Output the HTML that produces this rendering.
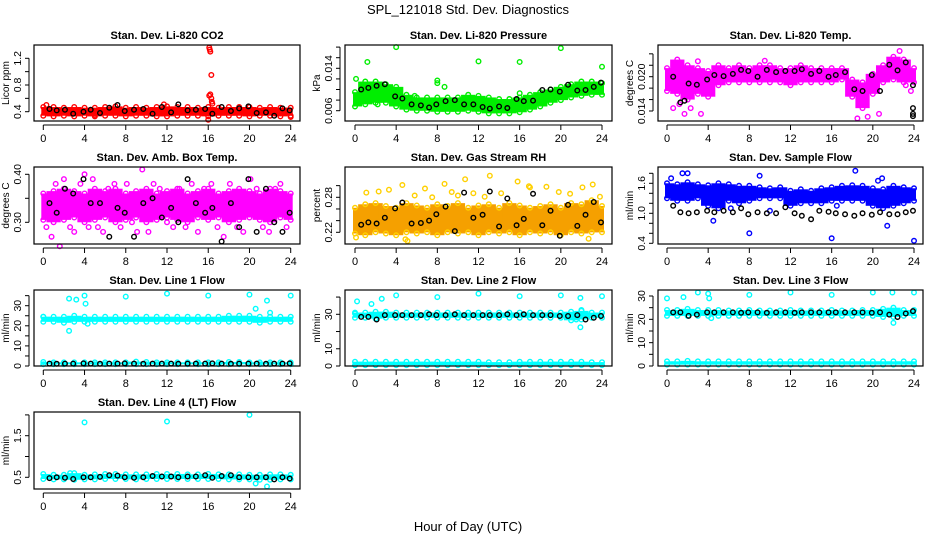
<!DOCTYPE html>
<html><head><meta charset="utf-8">
<style>
html,body{margin:0;padding:0;background:#fff;}
svg{display:block;font-family:"Liberation Sans",Arial,sans-serif;}
</style></head>
<body>
<svg id="chart" width="936" height="540" viewBox="0 0 936 540">
<rect width="936" height="540" fill="#fff"/>
<text x="468" y="14" text-anchor="middle" font-size="13">SPL_121018  Std. Dev. Diagnostics</text>
<text x="468" y="531" text-anchor="middle" font-size="13">Hour of Day (UTC)</text>
</svg>
<script>
// ---- data ----
const blackHours=[0.6,1.3,2.1,2.9,3.9,4.6,5.5,6.4,7.2,7.9,8.8,9.7,10.6,11.5,12.4,13.1,14.0,14.8,15.7,16.4,17.3,18.2,19.0,19.9,20.7,21.6,22.4,23.2,23.9];
const xTicks=[0,4,8,12,16,20,24];

const p1Lo=[0.34,0.33,0.34,0.33,0.34,0.33,0.34,0.34,0.33,0.34,0.34,0.33,0.33,0.34,0.34,0.34,0.33,0.34,0.34,0.34,0.33,0.34,0.34,0.33,0.34];
const p1Hi=[0.47,0.47,0.46,0.47,0.46,0.46,0.47,0.48,0.46,0.47,0.46,0.47,0.48,0.47,0.47,0.46,0.47,0.46,0.47,0.47,0.47,0.46,0.47,0.46,0.46];
const p1OutX=[16.1,16.15,16.2,16.3,16.2,16.1,16.3,16.35,16.4,16.0,24.0,0.3,11.7,5.0];
const p1OutY=[1.36,1.33,1.30,0.95,0.66,0.64,0.60,0.55,0.52,0.28,0.32,0.5,0.51,0.35];
const p1Black=[0.44,0.42,0.43,0.37,0.40,0.43,0.38,0.46,0.50,0.41,0.43,0.44,0.37,0.47,0.39,0.51,0.42,0.43,0.44,0.37,0.47,0.41,0.45,0.48,0.38,0.39,0.34,0.45,0.42];

const p2Lo=[0.0068,0.0072,0.0075,0.0075,0.0068,0.0062,0.0060,0.0060,0.0058,0.0058,0.0058,0.0060,0.0058,0.0055,0.0055,0.0055,0.0057,0.0062,0.0068,0.0075,0.0080,0.0085,0.0088,0.0090,0.0090];
const p2Hi=[0.0095,0.0115,0.0115,0.0110,0.0105,0.0090,0.0085,0.0085,0.0085,0.0085,0.0085,0.0090,0.0088,0.0085,0.0082,0.0082,0.0085,0.0090,0.0095,0.0100,0.0105,0.0110,0.0115,0.0115,0.0112];
const p2OutX=[4,1.2,12,16,20,24,0.1,8,8,8.7,2.2,5.8,16];
const p2OutY=[0.0180,0.0152,0.0153,0.0152,0.0178,0.0143,0.0120,0.0117,0.0112,0.0105,0.0072,0.0088,0.0093];
const p2Black=[0.0100,0.0103,0.0107,0.0110,0.0087,0.0083,0.0072,0.0070,0.0066,0.0072,0.0078,0.0080,0.0072,0.0072,0.0067,0.0064,0.0068,0.0065,0.0082,0.0078,0.0079,0.0099,0.0100,0.0096,0.0109,0.0098,0.0099,0.0105,0.0113];

const p3Lo=[0.0175,0.0170,0.0160,0.0170,0.0165,0.0185,0.0190,0.0190,0.0190,0.0190,0.0190,0.0190,0.0185,0.0190,0.0190,0.0190,0.0190,0.0195,0.0165,0.0145,0.0170,0.0190,0.0195,0.0190,0.0190];
const p3Hi=[0.0215,0.0230,0.0220,0.0215,0.0210,0.0220,0.0215,0.0220,0.0215,0.0220,0.0220,0.0215,0.0215,0.0220,0.0215,0.0215,0.0215,0.0215,0.0195,0.0190,0.0205,0.0220,0.0235,0.0230,0.0215];
const p3OutX=[18.5,19.5,1.7,3.3,20.6,0.6,22.6,9.5,3.0,23.2,23.7,1.2,2.3];
const p3OutY=[0.0127,0.0130,0.0135,0.0135,0.0135,0.0145,0.0245,0.0228,0.0227,0.0185,0.0175,0.0152,0.0145];
const p3Black=[0.0200,0.0155,0.0188,0.0186,0.0195,0.0203,0.0201,0.0205,0.0212,0.0210,0.0200,0.0212,0.0208,0.0210,0.0210,0.0213,0.0205,0.0210,0.0200,0.0203,0.0208,0.0178,0.0175,0.0203,0.0175,0.0221,0.0211,0.0225,0.0185];
const p3ExtraBX=[23.9,23.9,23.9,1.7];
const p3ExtraBY=[0.0145,0.0135,0.0131,0.0158];

const p4Lo=[0.305,0.30,0.305,0.31,0.30,0.305,0.31,0.30,0.305,0.31,0.30,0.305,0.31,0.305,0.30,0.31,0.305,0.31,0.30,0.305,0.31,0.305,0.30,0.31,0.305];
const p4Hi=[0.36,0.365,0.37,0.365,0.36,0.37,0.365,0.37,0.36,0.365,0.37,0.36,0.365,0.37,0.36,0.365,0.37,0.36,0.365,0.37,0.365,0.36,0.37,0.365,0.36];
const p4OutX=[0.3,0.8,1.2,1.6,2.0,2.6,3.0,3.6,4.0,4.4,4.8,5.3,5.8,6.3,6.9,7.5,8.1,8.6,9.1,9.6,10.2,10.7,11.3,12.0,12.6,13.2,13.8,14.4,15.0,15.6,16.3,16.9,17.5,18.1,18.8,19.4,20.1,20.7,21.3,21.9,22.5,23.0,23.6];
const p4OutY=[0.29,0.27,0.38,0.25,0.39,0.29,0.28,0.38,0.40,0.29,0.39,0.29,0.28,0.37,0.38,0.29,0.38,0.30,0.28,0.41,0.28,0.38,0.37,0.30,0.29,0.37,0.29,0.38,0.28,0.37,0.38,0.29,0.27,0.38,0.29,0.28,0.39,0.37,0.29,0.28,0.37,0.38,0.29];
const p4Black=[0.34,0.32,0.37,0.36,0.39,0.34,0.34,0.27,0.33,0.32,0.27,0.34,0.35,0.31,0.33,0.30,0.39,0.34,0.32,0.33,0.26,0.34,0.29,0.39,0.28,0.37,0.30,0.28,0.32];

const p5Lo=[0.218,0.215,0.22,0.218,0.215,0.22,0.218,0.22,0.215,0.22,0.218,0.22,0.215,0.22,0.218,0.22,0.215,0.22,0.218,0.22,0.215,0.22,0.218,0.22,0.22];
const p5Hi=[0.262,0.268,0.27,0.265,0.262,0.27,0.266,0.262,0.268,0.265,0.27,0.262,0.266,0.268,0.262,0.27,0.266,0.262,0.265,0.268,0.262,0.27,0.268,0.275,0.265];
const p5OutX=[0.1,1.1,2.3,3.3,4.6,5.1,5.8,6.8,8.7,9.4,10.7,11.5,13.1,15.8,17.0,18.6,19.8,20.9,22.1,22.7,23.1,23.8,4.9,7.5,10.0,12.6,14.2,16.9];
const p5OutY=[0.211,0.288,0.29,0.293,0.301,0.205,0.283,0.295,0.303,0.289,0.311,0.287,0.317,0.307,0.297,0.298,0.289,0.286,0.297,0.209,0.302,0.281,0.208,0.28,0.283,0.281,0.287,0.299];
const p5Black=[0.233,0.237,0.235,0.245,0.261,0.271,0.235,0.236,0.24,0.251,0.264,0.222,0.288,0.245,0.25,0.29,0.23,0.278,0.232,0.243,0.286,0.232,0.257,0.214,0.267,0.231,0.25,0.272,0.237];

const p6Lo=[1.30,1.25,1.25,1.30,1.15,1.10,1.25,1.20,1.25,1.30,1.30,1.30,1.15,1.20,1.20,1.20,1.25,1.25,1.25,1.25,1.15,1.10,1.15,1.20,1.25];
const p6Hi=[1.60,1.58,1.62,1.58,1.56,1.60,1.58,1.55,1.55,1.52,1.50,1.52,1.45,1.48,1.45,1.50,1.52,1.55,1.56,1.55,1.50,1.48,1.55,1.52,1.50];
const p6OutX=[1.5,2.0,0.4,4.5,8.0,9.0,16.0,18.3,20.5,21.4,24.0,16.5,20.9,10.0,6.2];
const p6OutY=[1.80,1.80,1.70,0.85,0.60,1.75,0.50,1.85,1.65,0.75,0.45,1.15,1.70,1.05,1.10];
const p6Black=[1.15,1.02,1.00,1.02,1.05,1.02,1.05,1.02,1.10,0.98,1.02,1.00,1.00,1.12,1.00,0.95,0.88,1.05,1.03,1.00,0.98,0.95,1.00,0.97,1.02,0.98,0.98,1.02,1.05];

const p7Lo=[22,22,21.5,22,22,22,22,22,22,22,22,22,22,22,22,22,22,22,22,22,22,21.5,22,22,22];
const p7Hi=[24.5,24.5,24.5,25,24.5,24.5,24.5,24.5,24.5,24.5,24.5,24.5,24.5,24.5,24.5,24.5,24.5,24.5,25,25,25,24.5,24.5,24.5,24.5];
const p7Lo2=[0.9,0.9,0.9,0.9,0.9,0.9,0.9,0.9,0.9,0.9,0.9,0.9,0.9,0.9,0.9,0.9,0.9,0.9,0.9,0.9,0.9,0.9,0.9,0.9,0.9];
const p7Hi2=[2.0,1.8,1.8,1.8,1.8,1.8,1.8,1.8,1.8,2.2,2.0,1.8,1.8,1.8,1.8,1.8,1.8,1.8,2.0,2.0,1.8,1.8,1.8,1.8,1.8];
const p7OutX=[2.5,3.2,4.0,4.1,4.3,8.0,12.0,16.0,20.0,20.6,21.7,22.0,24.0,2.5,0.0];
const p7OutY=[33.5,33,35,31,21,34.5,36,35,35.5,28.5,32.5,26.5,35,17.5,24.5];
const p7Black=[1.2,1.1,1.2,1.2,1.3,1.2,1.1,1.2,1.2,1.3,1.2,1.1,1.2,1.2,1.2,1.1,1.2,1.2,1.2,1.3,1.2,1.1,1.2,1.2,1.2,1.1,1.2,1.2,1.3];

const p8Lo=[28,28,27.5,28,28,28,28,28,28,28,28,28,28,28,28,28,28,28,28,28,28,26.5,27,28,28];
const p8Hi=[31,31,31.5,31.5,31,31,31,31,31,31,31,31,31,31,31,31,31,31,31,31,31,31.5,32,31,31];
const p8Lo2=[0.5,0.5,0.5,0.5,0.5,0.5,0.5,0.5,0.5,0.5,0.5,0.5,0.5,0.5,0.5,0.5,0.5,0.5,0.5,0.5,0.5,0.5,0.5,0.5,0.5];
const p8Hi2=[2.5,2.5,2.5,2.5,2.5,2.5,2.5,2.5,2.5,2.5,2.5,2.5,2.5,2.2,2.2,2.2,2.5,2.5,2.5,2.5,2.5,2.5,2.5,2.2,2.2];
const p8OutX=[0,0.2,1.6,2.6,4,8,12,16,20,21.5,21.9,21.9,22,24];
const p8OutY=[30.5,37.5,36,39,41,40,42,40.5,41,27,39.5,22.5,32.5,40.5];
const p8Black=[28.5,28.5,27,29.5,29.5,29.5,29.5,29.5,30,29.5,29.5,30,29.5,29.5,29.5,29.5,29.5,30,29.5,30,29.5,29.5,29.5,29,29,29.5,27,28,29];

const p9Lo=[21.5,21.5,21.5,21.5,21.5,21.5,21.5,21.5,21.5,21.5,21.5,21.5,21.5,21.5,21.5,21.5,21.5,21.5,21.5,21.5,21.5,21,21,21.5,21.5];
const p9Hi=[24,24,24.5,24,24,24,23.8,23.8,24,23.8,23.8,23.8,24,23.8,23.8,23.8,24,23.8,23.8,24,24,24.5,25,24,24];
const p9Lo2=[0.6,0.6,0.6,0.6,0.6,0.6,0.6,0.6,0.6,0.6,0.6,0.6,0.6,0.6,0.6,0.6,0.6,0.6,0.6,0.6,0.6,0.6,0.6,0.6,0.6];
const p9Hi2=[2.0,2.0,2.2,2.0,2.0,2.0,2.0,2.0,2.0,2.0,2.0,2.0,2.0,2.0,2.0,2.0,2.0,2.0,2.0,2.0,2.0,2.0,2.0,2.0,2.0];
const p9OutX=[0,1.6,3,4,4.1,4.3,8,12,16,20,21.9,22,24];
const p9OutY=[29,29.5,31.5,31,29,20.5,30.5,31.5,30.5,31.5,31.5,18.5,31.5];
const p9Black=[23,23,21.5,22,23,23,23,23,22.8,23,23,22.8,23,23,22.8,23,23,23,23,23,23,23,23,22.8,23,22,21,22.5,23.5];

const p10Lo=[0.46,0.45,0.45,0.44,0.45,0.45,0.46,0.46,0.46,0.45,0.46,0.46,0.46,0.46,0.46,0.46,0.46,0.46,0.45,0.45,0.45,0.44,0.44,0.45,0.45];
const p10Hi=[0.58,0.56,0.56,0.6,0.56,0.57,0.58,0.58,0.57,0.57,0.57,0.58,0.58,0.58,0.57,0.57,0.58,0.57,0.57,0.57,0.56,0.56,0.57,0.57,0.56];
const p10OutX=[4,12,20,20.6,21.7,2.6];
const p10OutY=[1.82,1.84,2.0,0.35,0.28,0.6];
const p10Black=[0.48,0.5,0.49,0.46,0.5,0.5,0.51,0.55,0.54,0.5,0.49,0.5,0.53,0.52,0.52,0.5,0.52,0.52,0.55,0.49,0.53,0.55,0.5,0.5,0.5,0.5,0.45,0.5,0.47];

// ---- layout (not data) ----
const cols=[{L:34,R:300,x0:43.3,x24:290.7},{L:345,R:612,x0:355,x24:602},{L:658,R:923,x0:667,x24:914}];
const rows=[{T:45,B:121},{T:167,B:244},{T:290,B:366},{T:412,B:489}];
const panels=[
 {c:0,r:0,title:"Stan. Dev. Li-820 CO2",ylab:"Licor ppm",col:"#ff0000",cal:[0.4,111.7,1.2,58.3],ticks:[0.4,0.6,0.8,1.0,1.2],labs:["0.4",null,"0.8",null,"1.2"],bands:[[p1Lo,p1Hi]],ox:p1OutX,oy:p1OutY,bk:p1Black},
 {c:1,r:0,title:"Stan. Dev. Li-820 Pressure",ylab:"kPa",col:"#00ee00",cal:[0.006,110.7,0.014,68.3],ticks:[0.006,0.008,0.010,0.012,0.014,0.016,0.018],labs:["0.006",null,null,null,"0.014",null,null],bands:[[p2Lo,p2Hi]],ox:p2OutX,oy:p2OutY,bk:p2Black},
 {c:2,r:0,title:"Stan. Dev. Li-820 Temp.",ylab:"degrees C",col:"#ff00ff",cal:[0.014,111,0.020,76.7],ticks:[0.014,0.016,0.018,0.020,0.022,0.024],labs:["0.014",null,null,"0.020",null,null],bands:[[p3Lo,p3Hi]],ox:p3OutX,oy:p3OutY,bk:p3Black,ebx:p3ExtraBX,eby:p3ExtraBY},
 {c:0,r:1,title:"Stan. Dev. Amb. Box Temp.",ylab:"degrees C",col:"#ff00ff",cal:[0.40,174.3,0.30,222.3],ticks:[0.30,0.35,0.40],labs:["0.30",null,"0.40"],bands:[[p4Lo,p4Hi]],ox:p4OutX,oy:p4OutY,bk:p4Black},
 {c:1,r:1,title:"Stan. Dev. Gas Stream RH",ylab:"percent",col:"#f5a000",edge:"#ffd000",cal:[0.22,232.3,0.28,197.3],ticks:[0.22,0.24,0.26,0.28,0.30],labs:["0.22",null,null,"0.28",null],bands:[[p5Lo,p5Hi]],ox:p5OutX,oy:p5OutY,bk:p5Black},
 {c:2,r:1,title:"Stan. Dev. Sample Flow",ylab:"ml/min",col:"#0000ff",cal:[1.0,213.3,1.6,183.3],ticks:[0.4,0.6,0.8,1.0,1.2,1.4,1.6,1.8],labs:["0.4",null,null,"1.0",null,null,"1.6",null],bands:[[p6Lo,p6Hi]],ox:p6OutX,oy:p6OutY,bk:p6Black},
 {c:0,r:2,title:"Stan. Dev. Line 1 Flow",ylab:"ml/min",col:"#00ffff",cal:[0,366,30,305.7],ticks:[0,5,10,15,20,25,30,35],labs:["0",null,"10",null,"20",null,"30",null],bands:[[p7Lo,p7Hi],[p7Lo2,p7Hi2]],ox:p7OutX,oy:p7OutY,bk:p7Black},
 {c:1,r:2,title:"Stan. Dev. Line 2 Flow",ylab:"ml/min",col:"#00ffff",cal:[0,366,30,314.3],ticks:[0,10,20,30,40],labs:["0","10",null,"30",null],bands:[[p8Lo,p8Hi],[p8Lo2,p8Hi2]],ox:p8OutX,oy:p8OutY,bk:p8Black},
 {c:2,r:2,title:"Stan. Dev. Line 3 Flow",ylab:"ml/min",col:"#00ffff",cal:[0,366,30,296],ticks:[0,5,10,15,20,25,30],labs:["0",null,"10",null,"20",null,"30"],bands:[[p9Lo,p9Hi],[p9Lo2,p9Hi2]],ox:p9OutX,oy:p9OutY,bk:p9Black},
 {c:0,r:3,title:"Stan. Dev. Line 4 (LT) Flow",ylab:"ml/min",col:"#00ffff",cal:[0.5,477.3,1.5,435.7],ticks:[0.5,1.0,1.5,2.0],labs:["0.5",null,"1.5",null],bands:[[p10Lo,p10Hi]],ox:p10OutX,oy:p10OutY,bk:p10Black}
];
const NS="http://www.w3.org/2000/svg";
const svg=document.getElementById('chart');
function mk(tag,attrs,parent){const e=document.createElementNS(NS,tag);for(const k in attrs)e.setAttribute(k,attrs[k]);(parent||svg).appendChild(e);return e;}
function circ(g,x,y,color,nm){
  const c=mk('circle',{cx:x,cy:y,r:2.3,fill:'none',stroke:color,'stroke-width':1.4},g);
  
  
}
panels.forEach((p,pi)=>{
  const C=cols[p.c],R=rows[p.r];
  const xs=h=>C.x0+(C.x24-C.x0)*h/24;
  const ys=v=>p.cal[1]+(v-p.cal[0])*(p.cal[3]-p.cal[1])/(p.cal[2]-p.cal[0]);
  const g=mk('g',{});
  
  
  p.bands.forEach(([lo,hi],bi)=>{
    lo.forEach((l,i)=>{
      const xa=xs(Math.max(0,i-0.5)),xb=xs(Math.min(24,i+0.5));
      const y1=ys(hi[i]),y2=ys(l);
      const r=mk('rect',{x:xa-2,y:y1,width:xb-xa+4,height:Math.max(1,y2-y1),fill:p.col},g);
      
      
      circ(g,xs(i),y1,p.edge||p.col,'band-edge-point');
      circ(g,xs(i),y2,p.edge||p.col,'band-edge-point');
    });
  });
  p.ox.forEach((h,i)=>circ(g,xs(h),ys(p.oy[i]),p.edge||p.col,'outlier-point'));
  p.bk.forEach((v,i)=>circ(g,xs(blackHours[i]),ys(v),'#000','black-point'));
  if(p.ebx)p.ebx.forEach((h,i)=>circ(g,xs(h),ys(p.eby[i]),'#000','black-point'));
  const b=mk('rect',{x:C.L,y:R.T,width:C.R-C.L,height:R.B-R.T,fill:'none',stroke:'#000','stroke-width':1.2},g);
  
  
  const t=mk('text',{x:(C.L+C.R)/2,y:R.T-6,'text-anchor':'middle','font-size':11,'font-weight':'bold'},g);
  t.textContent=p.title;
  
  
  const yt=p.ticks.map(ys);
  mk('line',{x1:C.L-5,x2:C.L-5,y1:Math.min(...yt),y2:Math.max(...yt),stroke:'#000'},g);
  p.ticks.forEach((v,i)=>{
    const y=ys(v);
    mk('line',{x1:C.L-9,x2:C.L-5,y1:y,y2:y,stroke:'#000'},g);
    if(p.labs[i]){
      const lt=mk('text',{x:0,y:0,'text-anchor':'middle','font-size':10.5,transform:`translate(${C.L-13},${y}) rotate(-90)`},g);
      lt.textContent=p.labs[i];
      
      
    }
  });
  const yl=mk('text',{x:0,y:0,'text-anchor':'middle','font-size':10,transform:`translate(${C.L-25},${(R.T+R.B)/2}) rotate(-90)`},g);
  yl.textContent=p.ylab;
  
  
  mk('line',{x1:xs(0),x2:xs(24),y1:R.B+4,y2:R.B+4,stroke:'#000'},g);
  xTicks.forEach(h=>{
    mk('line',{x1:xs(h),x2:xs(h),y1:R.B+4,y2:R.B+9,stroke:'#000'},g);
    const xt=mk('text',{x:xs(h),y:R.B+21,'text-anchor':'middle','font-size':11},g);
    xt.textContent=h;
    
    
  });
});
</script>
</body></html>
